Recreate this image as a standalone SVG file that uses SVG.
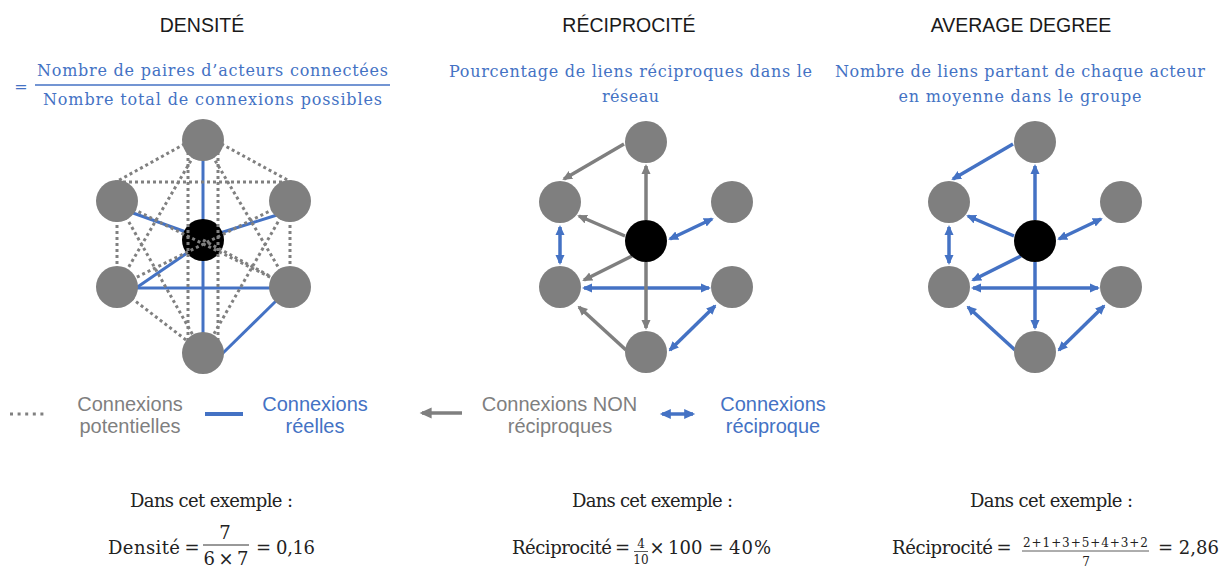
<svg xmlns="http://www.w3.org/2000/svg" width="1220" height="570" viewBox="0 0 1220 570">
  <defs>
    <style>
      .node { fill: #7f7f7f; }
      .hub { fill: #000; }
      .pot { stroke: #808080; stroke-width: 3; stroke-dasharray: 3 3; fill: none; }
      .real { stroke: #4472C4; stroke-width: 3; fill: none; }
      .g-arrow { stroke: #7f7f7f; stroke-width: 3.5; fill: none; }
      .b-arrow { stroke: #4472C4; stroke-width: 3.5; fill: none; }
      .title { font-family: "Liberation Sans", Arial, sans-serif; font-size: 19.5px; fill: #1a1a1a; text-anchor: middle; }
      .def { font-family: "DejaVu Serif", serif; font-size: 16px; fill: #4472C4; }
      .leg { font-family: "Liberation Sans", Arial, sans-serif; font-size: 20px; text-anchor: middle; }
      .gray { fill: #7f7f7f; }
      .blue { fill: #4472C4; }
      .math { font-family: "DejaVu Serif", serif; font-size: 18px; fill: #222; }
      .small { font-size: 12px; }
      .mid { text-anchor: middle; }
    </style>
    <marker id="ah-gray" viewBox="0 0 10 10" refX="8" refY="5" markerWidth="10" markerHeight="10" markerUnits="userSpaceOnUse" orient="auto-start-reverse">
      <path d="M0,0.5 L10,5 L0,9.5 Z" fill="#7f7f7f"/>
    </marker>
    <marker id="ah-blue" viewBox="0 0 10 10" refX="8" refY="5" markerWidth="10" markerHeight="10" markerUnits="userSpaceOnUse" orient="auto-start-reverse">
      <path d="M0,0.5 L10,5 L0,9.5 Z" fill="#4472C4"/>
    </marker>
    <!-- slightly larger heads for the legend samples -->
    <marker id="ah-gray-lg" viewBox="0 0 10 10" refX="8" refY="5" markerWidth="13" markerHeight="12" markerUnits="userSpaceOnUse" orient="auto-start-reverse">
      <path d="M0,0.5 L10,5 L0,9.5 Z" fill="#7f7f7f"/>
    </marker>
    <marker id="ah-blue-lg" viewBox="0 0 10 10" refX="8" refY="5" markerWidth="12" markerHeight="11" markerUnits="userSpaceOnUse" orient="auto-start-reverse">
      <path d="M0,0.5 L10,5 L0,9.5 Z" fill="#4472C4"/>
    </marker>
  </defs>

  <rect width="1220" height="570" fill="#fff"/>

  <!-- Titles -->
  <text class="title" x="202" y="32">DENSITÉ</text>
  <text class="title" x="629" y="32">RÉCIPROCITÉ</text>
  <text class="title" x="1021" y="32">AVERAGE DEGREE</text>

  <!-- Definitions -->
  <text class="def" x="21" y="92" text-anchor="middle" font-size="19">=</text>
  <text class="def" x="37" y="76" textLength="351">Nombre de paires d’acteurs connectées</text>
  <line x1="35" y1="85" x2="390" y2="85" stroke="#4472C4" stroke-width="1.5"/>
  <text class="def" x="43" y="105" textLength="339">Nombre total de connexions possibles</text>

  <text class="def" x="449" y="77" textLength="363">Pourcentage de liens réciproques dans le</text>
  <text class="def mid" x="630.5" y="102" textLength="57">réseau</text>

  <text class="def" x="835" y="77" textLength="370">Nombre de liens partant de chaque acteur</text>
  <text class="def mid" x="1020" y="102" textLength="243">en moyenne dans le groupe</text>

  <!-- ===== Density graph ===== -->
  <g id="density-real">
    <line class="real" x1="203" y1="158" x2="203" y2="335"/>
    <line class="real" x1="133" y1="213" x2="186" y2="232"/>
    <line class="real" x1="220" y1="233" x2="277" y2="215"/>
    <line class="real" x1="190" y1="251" x2="136" y2="288"/>
    <line class="real" x1="136" y1="288" x2="272" y2="288"/>
    <line class="real" x1="276" y1="301" x2="222" y2="354"/>
  </g>
  <g id="density-hub">
    <circle class="hub" cx="203" cy="240" r="21"/>
  </g>
  <g id="density-potential">
    <line class="pot" x1="190" y1="141" x2="114" y2="183"/>
    <line class="pot" x1="216" y1="141" x2="293" y2="183"/>
    <line class="pot" x1="117" y1="182" x2="290" y2="182"/>
    <line class="pot" x1="188" y1="140" x2="188" y2="353"/>
    <line class="pot" x1="218" y1="140" x2="218" y2="353"/>
    <line class="pot" x1="117" y1="201" x2="117" y2="287"/>
    <line class="pot" x1="290" y1="201" x2="290" y2="287"/>
    <line class="pot" x1="203" y1="140" x2="117" y2="287"/>
    <line class="pot" x1="203" y1="140" x2="290" y2="287"/>
    <line class="pot" x1="117" y1="201" x2="290" y2="287"/>
    <line class="pot" x1="290" y1="201" x2="117" y2="287"/>
    <line class="pot" x1="117" y1="201" x2="203" y2="353"/>
    <line class="pot" x1="290" y1="201" x2="203" y2="353"/>
    <line class="pot" x1="117" y1="287" x2="203" y2="353"/>
    <line class="pot" x1="203" y1="240" x2="290" y2="287"/>
  </g>
  <g id="density-top"><circle class="node" cx="203" cy="140" r="21"/></g>
  <g id="density-upper-left"><circle class="node" cx="117" cy="201" r="21"/></g>
  <g id="density-upper-right"><circle class="node" cx="290" cy="201" r="21"/></g>
  <g id="density-lower-left"><circle class="node" cx="117" cy="287" r="21"/></g>
  <g id="density-lower-right"><circle class="node" cx="290" cy="287" r="21"/></g>
  <g id="density-bottom"><circle class="node" cx="203" cy="353" r="21"/></g>

  <!-- ===== Reciprocity graph ===== -->
  <g id="recip-links">
    <line class="g-arrow" x1="624" y1="144" x2="564" y2="179" marker-end="url(#ah-gray)"/>
    <line class="g-arrow" x1="646" y1="220" x2="646" y2="166" marker-end="url(#ah-gray)"/>
    <line class="g-arrow" x1="625" y1="236" x2="579" y2="216" marker-end="url(#ah-gray)"/>
    <line class="b-arrow" x1="670" y1="239" x2="712" y2="219" marker-start="url(#ah-blue)" marker-end="url(#ah-blue)"/>
    <line class="b-arrow" x1="560" y1="227" x2="560" y2="263" marker-start="url(#ah-blue)" marker-end="url(#ah-blue)"/>
    <line class="g-arrow" x1="632" y1="256" x2="584" y2="280" marker-end="url(#ah-gray)"/>
    <line class="b-arrow" x1="584" y1="288" x2="709" y2="288" marker-start="url(#ah-blue)" marker-end="url(#ah-blue)"/>
    <line class="g-arrow" x1="646" y1="262" x2="646" y2="328" marker-end="url(#ah-gray)"/>
    <line class="g-arrow" x1="626" y1="350" x2="579" y2="307" marker-end="url(#ah-gray)"/>
    <line class="b-arrow" x1="670" y1="350" x2="715" y2="306" marker-start="url(#ah-blue)" marker-end="url(#ah-blue)"/>
  </g>
  <g id="recip-top"><circle class="node" cx="646" cy="142" r="21"/></g>
  <g id="recip-upper-left"><circle class="node" cx="560" cy="202" r="21"/></g>
  <g id="recip-upper-right"><circle class="node" cx="732" cy="202" r="21"/></g>
  <g id="recip-hub"><circle class="hub" cx="646" cy="241" r="21"/></g>
  <g id="recip-lower-left"><circle class="node" cx="560" cy="287" r="21"/></g>
  <g id="recip-lower-right"><circle class="node" cx="732" cy="287" r="21"/></g>
  <g id="recip-bottom"><circle class="node" cx="646" cy="352" r="21"/></g>

  <!-- ===== Average degree graph ===== -->
  <g id="degree-links">
    <line class="b-arrow" x1="1013" y1="144" x2="953" y2="179" marker-end="url(#ah-blue)"/>
    <line class="b-arrow" x1="1035" y1="220" x2="1035" y2="166" marker-end="url(#ah-blue)"/>
    <line class="b-arrow" x1="1014" y1="236" x2="968" y2="216" marker-end="url(#ah-blue)"/>
    <line class="b-arrow" x1="1059" y1="239" x2="1101" y2="219" marker-start="url(#ah-blue)" marker-end="url(#ah-blue)"/>
    <line class="b-arrow" x1="949" y1="227" x2="949" y2="263" marker-start="url(#ah-blue)" marker-end="url(#ah-blue)"/>
    <line class="b-arrow" x1="1021" y1="256" x2="973" y2="280" marker-end="url(#ah-blue)"/>
    <line class="b-arrow" x1="973" y1="288" x2="1098" y2="288" marker-start="url(#ah-blue)" marker-end="url(#ah-blue)"/>
    <line class="b-arrow" x1="1035" y1="262" x2="1035" y2="328" marker-end="url(#ah-blue)"/>
    <line class="b-arrow" x1="1015" y1="350" x2="968" y2="307" marker-end="url(#ah-blue)"/>
    <line class="b-arrow" x1="1059" y1="350" x2="1104" y2="306" marker-start="url(#ah-blue)" marker-end="url(#ah-blue)"/>
  </g>
  <g id="degree-top"><circle class="node" cx="1035" cy="142" r="21"/></g>
  <g id="degree-upper-left"><circle class="node" cx="949" cy="202" r="21"/></g>
  <g id="degree-upper-right"><circle class="node" cx="1121" cy="202" r="21"/></g>
  <g id="degree-hub"><circle class="hub" cx="1035" cy="241" r="21"/></g>
  <g id="degree-lower-left"><circle class="node" cx="949" cy="287" r="21"/></g>
  <g id="degree-lower-right"><circle class="node" cx="1121" cy="287" r="21"/></g>
  <g id="degree-bottom"><circle class="node" cx="1035" cy="352" r="21"/></g>

  <!-- ===== Legend ===== -->
  <g id="legend">
    <line x1="10" y1="414" x2="48" y2="414" stroke="#808080" stroke-width="3" stroke-dasharray="3 4.6"/>
    <text class="leg gray" x="130" y="411">Connexions</text>
    <text class="leg gray" x="130" y="433">potentielles</text>
    <line x1="205" y1="414" x2="243" y2="414" stroke="#4472C4" stroke-width="4"/>
    <text class="leg blue" x="315" y="411">Connexions</text>
    <text class="leg blue" x="315" y="433">réelles</text>
    <line class="g-arrow" x1="462" y1="413" x2="422" y2="413" marker-end="url(#ah-gray-lg)"/>
    <text class="leg gray" x="559.5" y="411">Connexions NON</text>
    <text class="leg gray" x="560" y="433">réciproques</text>
    <line class="b-arrow" x1="662" y1="414" x2="693" y2="414" marker-start="url(#ah-blue-lg)" marker-end="url(#ah-blue-lg)"/>
    <text class="leg blue" x="773" y="411">Connexions</text>
    <text class="leg blue" x="773" y="433">réciproque</text>
  </g>

  <!-- ===== Worked examples ===== -->
  <g id="example-density">
    <text class="math mid" x="211.5" y="507" textLength="163">Dans cet exemple :</text>
    <text class="math" x="108" y="554" textLength="72">Densité</text>
    <text class="math mid" x="192" y="554">=</text>
    <text class="math mid" x="225" y="539">7</text>
    <line x1="203" y1="545" x2="249" y2="545" stroke="#333" stroke-width="1"/>
    <text class="math mid" x="226" y="565" textLength="45">6 × 7</text>
    <text class="math" x="256" y="554" textLength="59">= 0,16</text>
  </g>
  <g id="example-reciprocity">
    <text class="math mid" x="652.5" y="507" textLength="161">Dans cet exemple :</text>
    <text class="math" x="512" y="554" textLength="100">Réciprocité</text>
    <text class="math mid" x="622.5" y="554">=</text>
    <text class="math small mid" x="641" y="548">4</text>
    <line x1="634" y1="551.5" x2="648" y2="551.5" stroke="#333" stroke-width="0.8"/>
    <text class="math small mid" x="641" y="564">10</text>
    <text class="math mid" x="657" y="554">×</text>
    <text class="math" x="668" y="554">100</text>
    <text class="math mid" x="716" y="554">=</text>
    <text class="math" x="729" y="554" letter-spacing="1">40%</text>
  </g>
  <g id="example-degree">
    <text class="math mid" x="1051.5" y="507" textLength="163">Dans cet exemple :</text>
    <text class="math" x="892" y="554" textLength="101">Réciprocité</text>
    <text class="math mid" x="1004" y="554">=</text>
    <text class="math small" x="1023" y="547" textLength="125">2+1+3+5+4+3+2</text>
    <line x1="1022" y1="551" x2="1149" y2="551" stroke="#333" stroke-width="0.8"/>
    <text class="math small mid" x="1086" y="566">7</text>
    <text class="math" x="1158" y="554">= 2,86</text>
  </g>
</svg>
